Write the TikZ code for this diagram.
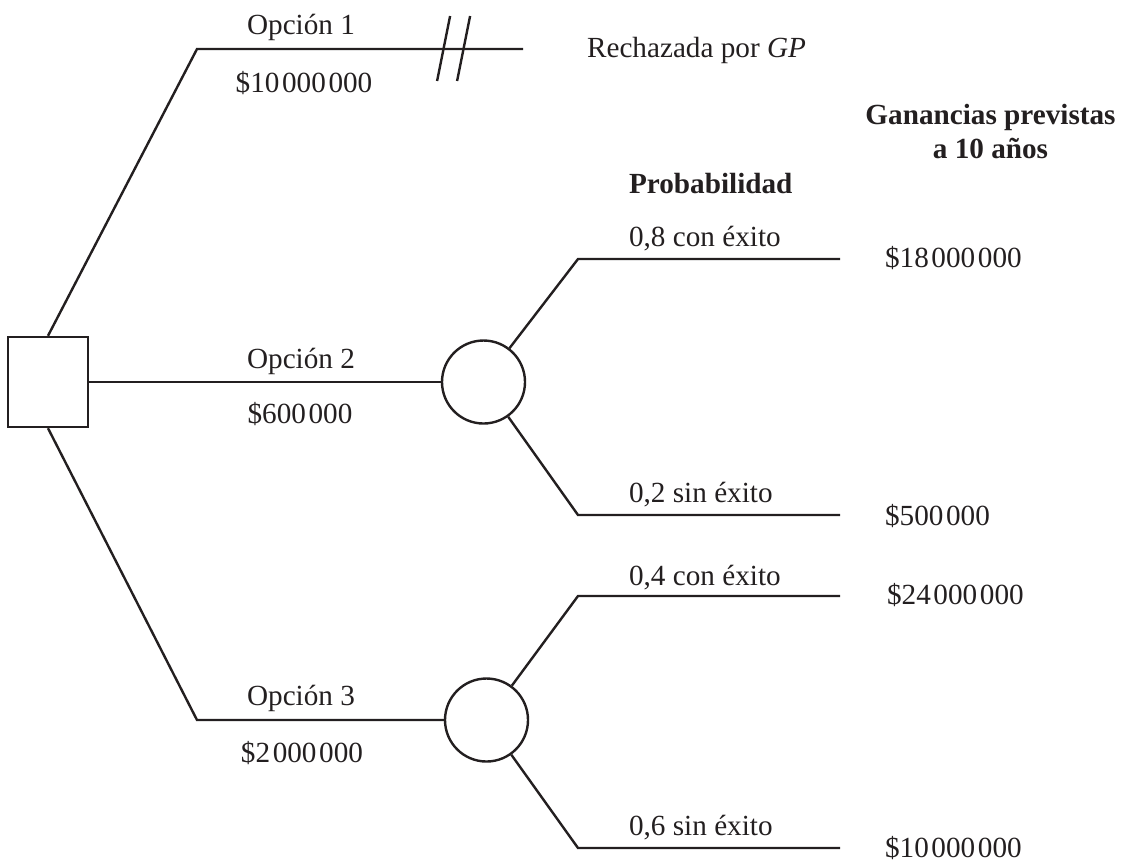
\documentclass[tikz,border=0pt]{standalone}
\usepackage{fontspec}
\setmainfont{Liberation Serif}
\usepackage{xcolor}
\usepackage{tikz}
\definecolor{ink}{HTML}{231F20}
\newcommand{\gsep}{\hspace{0.09em}}

\begin{document}
\begin{tikzpicture}[x=0.5pt,y=-0.5pt,
    every node/.style={text=ink,font=\fontsize{14.6}{17}\selectfont},
    branch/.style={draw=ink,line width=1.2pt},
    decision/.style={draw=ink,line width=1.2pt,minimum width=40pt,minimum height=45pt,inner sep=0pt},
    chance/.style={draw=ink,line width=1.2pt,circle,minimum size=41.5pt,inner sep=0pt},
    optlbl/.style={anchor=base},
    problbl/.style={anchor=base west},
    vallbl/.style={anchor=base west}]
    \useasboundingbox (0,0) rectangle (1123,864);

    % Decision and chance nodes
    \node[decision] (dec) at (48,382) {};
    \node[chance] (c2) at (483.5,382) {};
    \node[chance] (c3) at (486.5,720) {};

    % Corner points
    \coordinate (o1a) at (197,49);
    \coordinate (o1b) at (523,49);
    \coordinate (o3a) at (197,720);
    \coordinate (p1a) at (578,259);
    \coordinate (p1b) at (840,259);
    \coordinate (p2a) at (578,515);
    \coordinate (p2b) at (840,515);
    \coordinate (p3a) at (578,596);
    \coordinate (p3b) at (840,596);
    \coordinate (p4a) at (578,848);
    \coordinate (p4b) at (840,848);
    \coordinate (cut) at (453.6,49);

    % Option 1 (rejected)
    \draw[branch] (dec.north) -- (o1a) -- (o1b);
    \draw[branch] ([xshift=-5]cut) ++(-6.5,32) -- ++(13,-65);
    \draw[branch] ([xshift=5]cut) ++(-6.5,32) -- ++(13,-65);
    \node[optlbl] (op1) at (301,34) {Opción 1};
    \node[optlbl] (g1) at (304,92) {\$10\gsep000\gsep000};
    \node[anchor=base west] (rech) at (580,57) {Rechazada por \textit{GP}};

    % Option 2
    \draw[branch] (dec.east) -- (c2);
    \node[optlbl] (op2) at (301,368) {Opción 2};
    \node[optlbl] (g2) at (300,423) {\$600\gsep000};
    \draw[branch] (c2) -- (p1a) -- (p1b);
    \draw[branch] (c2) -- (p2a) -- (p2b);

    % Option 3
    \draw[branch] (dec.south) -- (o3a) -- (c3);
    \node[optlbl] (op3) at (301,705) {Opción 3};
    \node[optlbl] (g3) at (302,762) {\$2\gsep000\gsep000};
    \draw[branch] (c3) -- (p3a) -- (p3b);
    \draw[branch] (c3) -- (p4a) -- (p4b);

    % Headers
    \node[anchor=base west,font=\fontsize{14.6}{17}\selectfont\bfseries] (hprob) at (622,193) {Probabilidad};
    \node[anchor=base,align=center,font=\fontsize{14.6}{17}\selectfont\bfseries] (hgan) at (990.5,158) {Ganancias previstas\\a 10 años};

    % Probabilities
    \node[problbl] (pr1) at (622,246) {0,8 con éxito};
    \node[problbl] (pr2) at (622,502) {0,2 sin éxito};
    \node[problbl] (pr3) at (622,585) {0,4 con éxito};
    \node[problbl] (pr4) at (622,835) {0,6 sin éxito};

    % Expected profits
    \node[vallbl] (v1) at (878,267) {\$18\gsep000\gsep000};
    \node[vallbl] (v2) at (878,525) {\$500\gsep000};
    \node[vallbl] (v3) at (880,604) {\$24\gsep000\gsep000};
    \node[vallbl] (v4) at (878,857) {\$10\gsep000\gsep000};
\end{tikzpicture}
\end{document}
